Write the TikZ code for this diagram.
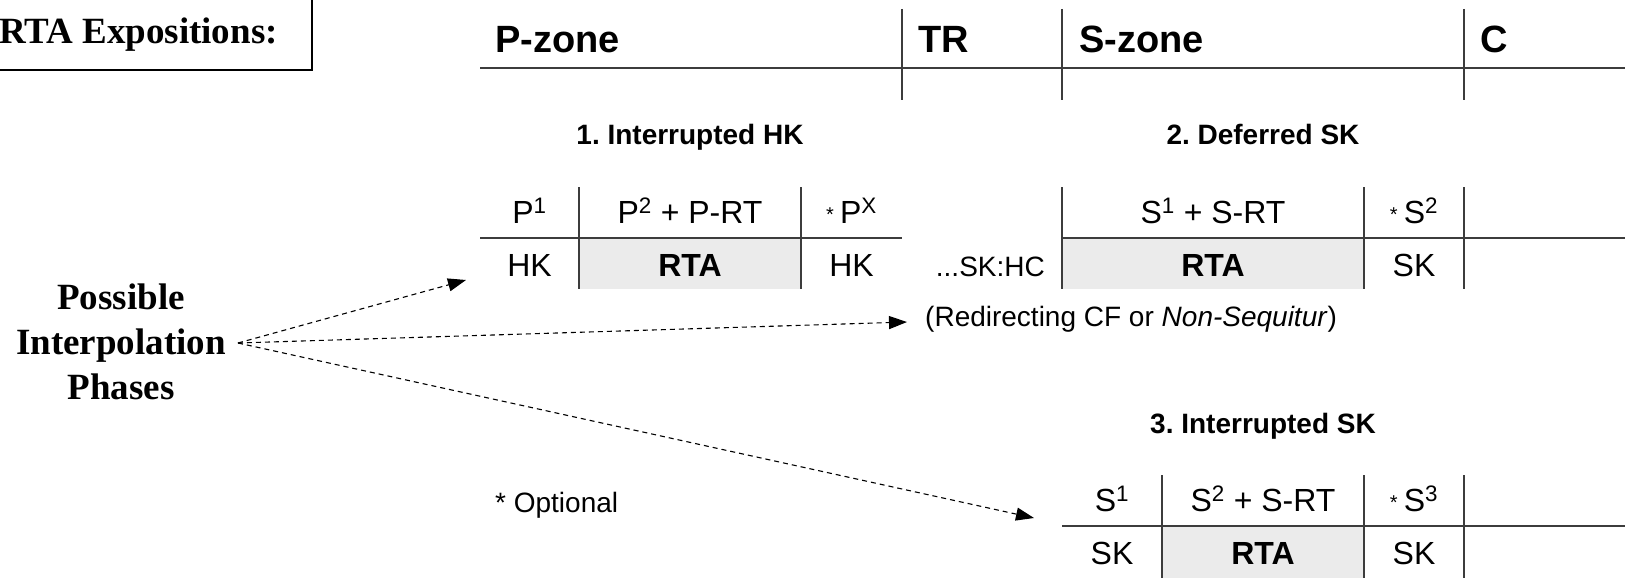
\documentclass[tikz,border=0pt]{standalone}
\usepackage{fontspec}
\setmainfont{Liberation Sans}
\newfontfamily\timesfam{Liberation Serif}
\usetikzlibrary{arrows.meta}
\definecolor{cellgray}{RGB}{235,235,235}
\definecolor{rulegray}{RGB}{60,60,60}
\newcommand{\opt}{\raisebox{2pt}{\fontsize{20}{20}\selectfont *}\hspace{6pt}}

\begin{document}
\frenchspacing
\begin{tikzpicture}[x=1pt,y=-1pt,
  rule/.style={line width=1.3pt, draw=rulegray},
  hdr/.style={inner sep=0pt, anchor=base west, font=\fontsize{38}{44}\selectfont\bfseries},
  ttl/.style={inner sep=0pt, anchor=base, font=\fontsize{28}{34}\selectfont\bfseries},
  cell/.style={inner sep=0pt, anchor=base, font=\fontsize{32}{38}\selectfont},
  note/.style={inner sep=0pt, font=\fontsize{28}{34}\selectfont},
  phase/.style={line width=1.1pt, dash pattern=on 5pt off 4pt,
    -{Triangle[length=18pt,width=13pt]}}
]
\useasboundingbox (0,0) rectangle (1625,578);

% title box
\draw[line width=2pt] (-10,-10) rectangle (312,70);
\node[inner sep=0pt, anchor=base east, font=\timesfam\bfseries\fontsize{37}{42}\selectfont]
  (expo) at (278,44) {RTA Expositions:};

% zone header
\draw[rule] (480,68) -- (1625,68);
\foreach \x in {902,1062,1464} \draw[rule] (\x,9) -- (\x,100);
\node[hdr] (pzone) at (495,52.5) {P-zone};
\node[hdr] (tr)    at (918,52.5) {TR};
\node[hdr] (szone) at (1079,52.5) {S-zone};
\node[hdr] (cz)    at (1480,52.5) {C};

% 1. Interrupted HK
\node[ttl] (t1) at (690,144) {1. Interrupted HK};
\fill[cellgray] (579,238) rectangle (801,289);
\draw[rule] (480,238) -- (902,238);
\foreach \x in {579,801} \draw[rule] (\x,187) -- (\x,289);
\node[cell] (a1) at (529.5,223) {P\textsuperscript{1}};
\node[cell] (a2) at (690,223) {P\textsuperscript{2} + P-RT};
\node[cell] (a3) at (851.5,223) {\opt P\textsuperscript{X}};
\node[cell] (a4) at (529.5,276) {HK};
\node[cell] (a5) at (690,276) {\textbf{RTA}};
\node[cell] (a6) at (851.5,276) {HK};

% 2. Deferred SK
\node[ttl] (t2) at (1263,144) {2. Deferred SK};
\fill[cellgray] (1062,238) rectangle (1364,289);
\draw[rule] (1062,238) -- (1625,238);
\foreach \x in {1062,1364,1464} \draw[rule] (\x,187) -- (\x,289);
\node[cell] (b1) at (1213,223) {S\textsuperscript{1} + S-RT};
\node[cell] (b2) at (1414,223) {\opt S\textsuperscript{2}};
\node[cell] (b3) at (1213,276) {\textbf{RTA}};
\node[cell] (b4) at (1414,276) {SK};
\node[note, anchor=base east] (skhc) at (1045,276) {...SK:HC};
\node[note, anchor=base west] (redir) at (925,326) {(Redirecting CF or \textit{Non-Sequitur})};

% 3. Interrupted SK
\node[ttl] (t3) at (1263,433) {3. Interrupted SK};
\fill[cellgray] (1162,526) rectangle (1364,580);
\draw[rule] (1062,526) -- (1625,526);
\foreach \x in {1162,1364,1464} \draw[rule] (\x,475) -- (\x,580);
\node[cell] (c1) at (1112,511) {S\textsuperscript{1}};
\node[cell] (c2) at (1263,511) {S\textsuperscript{2} + S-RT};
\node[cell] (c3) at (1414,511) {\opt S\textsuperscript{3}};
\node[cell] (c4) at (1112,564) {SK};
\node[cell] (c5) at (1263,564) {\textbf{RTA}};
\node[cell] (c6) at (1414,564) {SK};

\node[note, anchor=base west] (optional) at (495,512) {* Optional};

% interpolation phases
\node[align=center, inner sep=0pt, font=\timesfam\bfseries\fontsize{37}{45}\selectfont]
  (phases) at (121,342) {Possible\\Interpolation\\Phases};
\coordinate (src) at (238,343);
\coordinate (p1) at (466,280);
\coordinate (p2) at (907,322);
\coordinate (p3) at (1034,518);
\draw[phase] (src) -- (p1);
\draw[phase] (src) -- (p2);
\draw[phase] (src) -- (p3);
\end{tikzpicture}
\end{document}
